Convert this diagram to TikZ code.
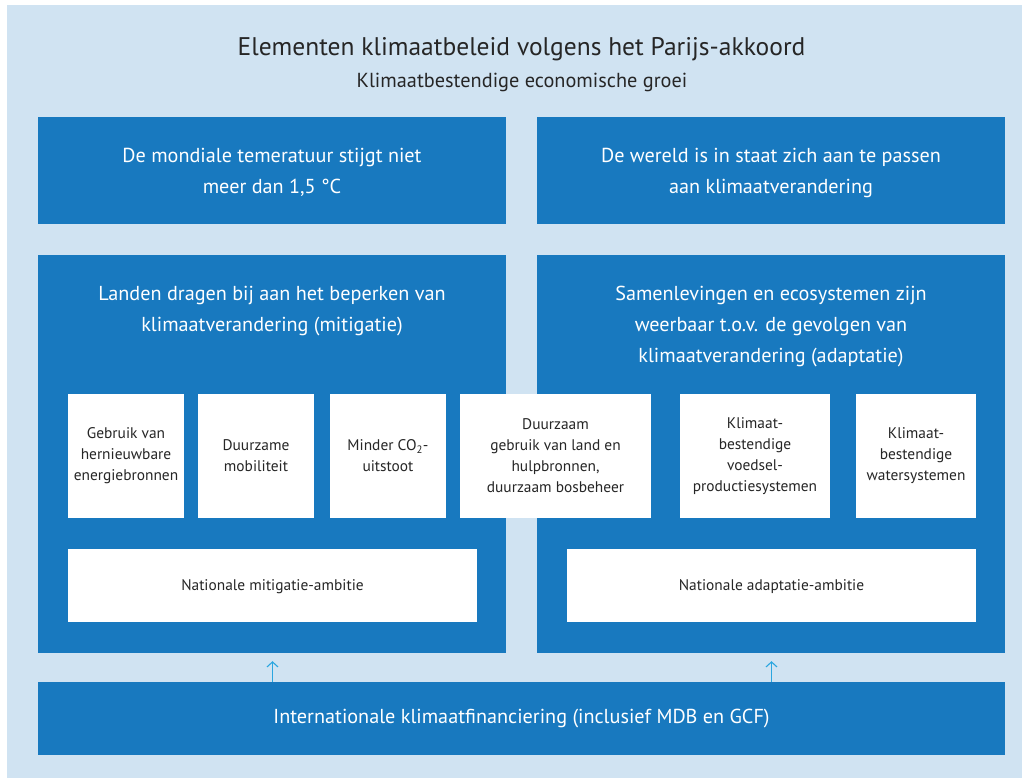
\documentclass[tikz,border=0pt]{standalone}
\usepackage{fontspec}
\setmainfont{PT Sans}
\usepackage{tikz}
\usetikzlibrary{positioning, arrows.meta}

\definecolor{rijkblauw}{HTML}{1879BF}
\definecolor{lichtblauw}{HTML}{D0E3F2}
\definecolor{pijlblauw}{HTML}{2AA6E0}
\definecolor{tekstgrijs}{HTML}{262626}

\begin{document}
\begin{tikzpicture}[x=1pt, y=-1pt,
    blok/.style={fill=rijkblauw, inner sep=0pt, text=white, align=center,
      font=\fontsize{20.2}{31}\selectfont},
    kaart/.style={fill=white, inner sep=0pt, text=tekstgrijs, align=center,
      font=\fontsize{15.4}{21}\selectfont},
    kop/.style={text=white, align=center, inner sep=0pt,
      font=\fontsize{20.2}{31}\selectfont},
    omhoog/.style={-{Straight Barb[length=5pt,width=11pt]}, draw=pijlblauw, line width=1.1pt}]

    % Page and light background
    \useasboundingbox (0,0) rectangle (1022,778);
    \fill[lichtblauw] (7,5) rectangle (1022,778);

    % Title
    \node[text=tekstgrijs, font=\fontsize{25.5}{30}\selectfont] (titel) at (521.5,49)
      {Elementen klimaatbeleid volgens het Parijs-akkoord};
    \node[text=tekstgrijs, font=\fontsize{20.3}{22}\selectfont] (ondertitel) at (522,82)
      {Klimaatbestendige economische groei};

    % Goals
    \node[blok, text depth=0pt, minimum width=468pt, minimum height=107pt] (doel1) at (272,170.5)
      {De mondiale temeratuur stijgt niet\\meer dan 1,5 °C};
    \node[blok, text depth=0pt, minimum width=468pt, minimum height=107pt] (doel2) at (771,170.5)
      {De wereld is in staat zich aan te passen\\aan klimaatverandering};

    % Mitigation and adaptation
    \node[blok, minimum width=468pt, minimum height=398pt] (mit) at (272,454) {};
    \node[blok, minimum width=468pt, minimum height=398pt] (adapt) at (771,454) {};
    \node[kop, below=31pt of mit.north] (mittekst)
      {Landen dragen bij aan het beperken van\\klimaatverandering (mitigatie)};
    \node[kop, below=31pt of adapt.north] (adapttekst)
      {Samenlevingen en ecosystemen zijn\\weerbaar t.o.v. de gevolgen van\\klimaatverandering (adaptatie)};

    % Sectors
    \foreach \naam/\x/\w/\tekst in {
        s1/126/116/{Gebruik van\\hernieuwbare\\energiebronnen},
        s2/256/116/{Duurzame\\mobiliteit},
        s3/388/116/{Minder CO\textsubscript{2}-\\uitstoot},
        s4/555.5/191/{Duurzaam\\gebruik van land en\\hulpbronnen,\\duurzaam bosbeheer},
        s5/755/150/{Klimaat-\\bestendige\\voedsel-\\productiesystemen},
        s6/916/120/{Klimaat-\\bestendige\\watersystemen}} {
      \node[kaart, minimum width=\w pt, minimum height=124pt] (\naam) at (\x,456) {\tekst};
    }

    % National ambitions
    \node[kaart, text depth=0pt, minimum width=409pt, minimum height=73pt] (natmit) at (272.5,585.5)
      {Nationale mitigatie-ambitie};
    \node[kaart, text depth=0pt, minimum width=409pt, minimum height=73pt] (natadapt) at (771.5,585.5)
      {Nationale adaptatie-ambitie};

    % Finance
    \node[blok, minimum width=967pt, minimum height=73pt] (fin) at (521.5,718.5)
      {Internationale klimaatfinanciering (inclusief MDB en GCF)};

    \draw[omhoog] (fin.north -| natmit) -- ([yshift=-8pt]mit.south -| natmit);
    \draw[omhoog] (fin.north -| natadapt) -- ([yshift=-8pt]adapt.south -| natadapt);
\end{tikzpicture}
\end{document}
